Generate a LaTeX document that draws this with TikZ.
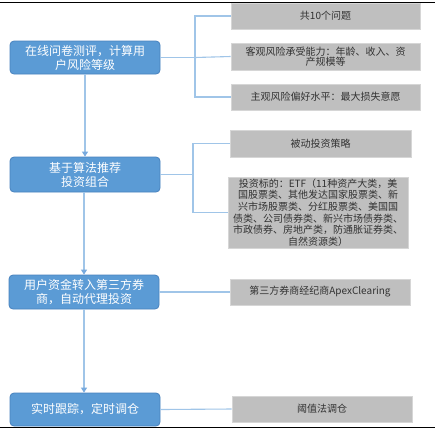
\documentclass[tikz,border=0pt]{standalone}
\usepackage{fontspec}
\setmainfont{Noto Sans CJK SC}
\usetikzlibrary{arrows.meta}
\definecolor{bfill}{RGB}{91,155,213}
\definecolor{bdraw}{RGB}{72,130,190}
\definecolor{gfill}{RGB}{191,191,191}
\definecolor{gdraw}{RGB}{214,214,214}
\definecolor{lnk}{RGB}{160,197,232}
\definecolor{tip}{RGB}{120,170,222}
\definecolor{gtext}{RGB}{50,50,50}
\tikzset{
  bluebox/.style={draw=bdraw, line width=0.8pt, fill=bfill, rounded corners=4pt, text=white,
    minimum width=150pt, align=center, inner sep=0pt,
    font=\fontsize{12}{14}\selectfont},
  graybox/.style={draw=gdraw, line width=0.8pt, fill=gfill, text=gtext, align=center, inner sep=0pt,
    font=\fontsize{10}{10.5}\selectfont},
  link/.style={draw=lnk, line width=1.1pt},
  flow/.style={link, -{Triangle[length=5pt,width=6pt,fill=tip,color=tip]}}
}
\begin{document}
\begin{tikzpicture}[x=1pt,y=-1pt]
\useasboundingbox (0,0) rectangle (435,432);
\fill[white] (0,0) rectangle (435,432);
\draw[black, line width=1pt] (0,2) -- (435,2);
\draw[black, line width=1pt] (0,427) -- (435,427);

% blue boxes
\node[bluebox, minimum height=33pt] (n1) at (85,57.5) {在线问卷测评，计算用\\户风险等级};
\node[bluebox, minimum height=35pt] (n2) at (85,174.5) {基于算法推荐\\投资组合};
\node[bluebox, minimum height=34pt] (n3) at (84,292) {用户资金转入第三方券\\商，自动代理投资};
\node[bluebox, minimum height=33pt] (n4) at (85,409.5) {实时跟踪，定时调仓};

% gray boxes
\node[graybox, minimum width=189pt, minimum height=26pt] (g1) at (325.5,16) {共10个问题};
\node[graybox, minimum width=189pt, minimum height=27pt] (g2) at (325.5,56.5) {客观风险承受能力：年龄、收入、资\\产规模等};
\node[graybox, minimum width=189pt, minimum height=26pt] (g3) at (325.5,97) {主观风险偏好水平：最大损失意愿};
\node[graybox, minimum width=181pt, minimum height=27pt] (g4) at (320.5,143.5) {被动投资策略};
\node[graybox, minimum width=180pt, minimum height=71pt, font=\fontsize{10}{11.6}\selectfont] (g5) at (318,212.5)
  {投资标的：ETF（11种资产大类，美\\国股票类、其他发达国家股票类、新\\兴市场股票类、分红股票类、美国国\\债类、公司债券类、新兴市场债券类、\\市政债券、房地产类，防通胀证券类、\\自然资源类）};
\node[graybox, minimum width=180pt, minimum height=26pt] (g6) at (320,292) {第三方券商经纪商ApexClearing};
\node[graybox, minimum width=180pt, minimum height=26pt] (g7) at (322,409) {阈值法调仓};

% vertical flow
\draw[flow] (n1.south) -- (n2.north);
\draw[flow] (n2.south -| n3.north) -- (n3.north);
\draw[flow] (n3.south) -- (n3.south |- n4.north);

% bracket 1
\coordinate (k1) at (195,57.5);
\draw[link] (n1.east) -- (k1);
\draw[link] (g1.west) -- (g1.west -| k1) -- (g3.west -| k1) -- (g3.west);
\draw[link] (k1) -- (g2.west);

% bracket 2
\coordinate (k2) at (193,174.5);
\draw[link] (n2.east) -- (k2);
\draw[link] (g4.west) -- (g4.west -| k2) -- (g5.west -| k2) -- (g5.west);

% direct links
\draw[link] (n3.east) -- (g6.west);
\draw[link] (n4.east) -- (g7.west);
\end{tikzpicture}
\end{document}
